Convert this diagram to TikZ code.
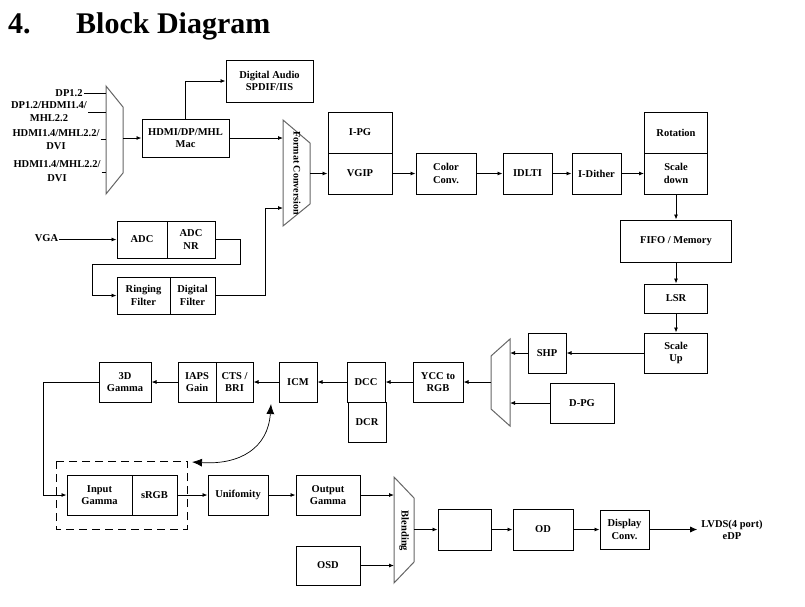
\documentclass[tikz,border=0pt]{standalone}
\usepackage{fontspec}
\setmainfont{Liberation Serif}
\usetikzlibrary{arrows.meta}
\tikzset{   blk/.style = {rectangle, draw = black, line width = 1pt, fill = white, inner sep = 0pt, align = center, font = \fontsize{10.5}{12.5}\selectfont\bfseries},
            box/.style 2 args = {blk, minimum width = #1pt, minimum height = #2pt},
            lbl/.style = {inner sep = 1pt, align = center, font = \fontsize{10.5}{13.5}\selectfont\bfseries},
            flow/.style = {line width = 0.8pt, -{Latex[length=5pt,width=4pt]}},
            mux/.style = {draw = black!60, line width = 1pt, fill = white}}

\begin{document}
\begin{tikzpicture}[x=1pt, y=-1pt]
                        \useasboundingbox (0,0) rectangle (805,606);
                        % heading
                        \node[anchor=base west, inner sep=0pt, font=\fontsize{30}{36}\selectfont\bfseries] (secnum) at (8,33) {4.};
                        \node[anchor=base west, inner sep=0pt, font=\fontsize{30}{36}\selectfont\bfseries] (sectitle) at (76,33) {Block Diagram};

                        % input mux
                        \draw[mux] (106,86) -- (123,107) -- (123,173) -- (106,194) -- cycle;
                        \coordinate (dpin1) at (106,93);
                        \coordinate (dpin2) at (106,112);
                        \coordinate (dpin3) at (106,139);
                        \coordinate (dpin4) at (106,172);
                        \coordinate (dpout) at (123,138);
                        \node[lbl] (dp1) at (69,93) {DP1.2};
                        \node[lbl] (dp2) at (49,111.5) {DP1.2/HDMI1.4/\\MHL2.2};
                        \node[lbl] (hd1) at (56,139.5) {HDMI1.4/MHL2.2/\\DVI};
                        \node[lbl] (hd2) at (57,171) {HDMI1.4/MHL2.2/\\DVI};
                        \draw[line width=0.8pt] (dp1.east) -- (dpin1);
                        \draw[line width=0.8pt] (dp2.east |- dpin2) -- (dpin2);
                        \draw[line width=0.8pt] (hd1.east |- dpin3) -- (dpin3);
                        \draw[line width=0.8pt] (hd2.east |- dpin4) -- (dpin4);

                        \node[box={87}{38}] (mac) at (185.5,138) {HDMI/DP/MHL\\Mac};
                        \node[box={87}{42}] (audio) at (269.5,81) {Digital Audio\\SPDIF/IIS};
                        \draw[flow] (dpout) -- (mac.west);
                        \draw[flow] (mac.north) |- (audio.west);

                        % analog path
                        \node[lbl] (vga) at (46.5,238) {VGA};
                        \node[box={50}{37}] (adc) at (142,239.5) {ADC};
                        \node[box={48}{37}] (adcnr) at (191,239.5) {ADC\\NR};
                        \node[box={53}{37}] (ring) at (143.5,295.5) {Ringing\\Filter};
                        \node[box={45}{37}] (digf) at (192.5,295.5) {Digital\\Filter};
                        \draw[flow] (vga.east |- adc.west) -- (adc.west);
                        \draw[flow] (adcnr.east) -- ++(25,0) |- ++(-148,24.5) |- (ring.west);

                        % format conversion
                        \draw[mux] (283,120) -- (310,143) -- (310,204) -- (283,226) -- cycle;
                        \node[lbl, rotate=-90, font=\fontsize{10}{12}\selectfont\bfseries] (fmtlbl) at (297,173) {Format Conversion};
                        \coordinate (fmtin1) at (283,138);
                        \coordinate (fmtin2) at (283,208);
                        \coordinate (fmtout) at (310,173.5);
                        \draw[flow] (mac.east) -- (fmtin1);
                        \draw[flow] (digf.east) -- ++(50,0) |- (fmtin2);

                        % front end chain
                        \node[box={64}{41}] (ipg) at (360,132.5) {I-PG};
                        \node[box={64}{41}] (vgip) at (360,173.5) {VGIP};
                        \node[box={60}{41}] (color) at (446,173.5) {Color\\Conv.};
                        \node[box={49}{41}] (idlti) at (527.5,173.5) {IDLTI};
                        \node[box={49}{41}] (idither) at (596.5,173.5) {I-Dither};
                        \node[box={63}{41}] (rot) at (676,132.5) {Rotation};
                        \node[box={63}{41}] (sdown) at (676,173.5) {Scale\\down};
                        \draw[flow] (fmtout) -- (vgip.west);
                        \draw[flow] (vgip) -- (color);
                        \draw[flow] (color) -- (idlti);
                        \draw[flow] (idlti) -- (idither);
                        \draw[flow] (idither) -- (sdown);

                        \node[box={111}{42}] (fifo) at (676,241) {FIFO / Memory};
                        \node[box={63}{29}] (lsr) at (676,298.5) {LSR};
                        \node[box={63}{40}] (sup) at (676,353) {Scale\\Up};
                        \draw[flow] (sdown) -- (fifo);
                        \draw[flow] (fifo) -- (lsr);
                        \draw[flow] (lsr) -- (sup);

                        % back end chain
                        \node[box={38}{40}] (shp) at (547,353) {SHP};
                        \node[box={64}{40}] (dpg) at (582,403) {D-PG};
                        \draw[mux] (491,356) -- (510,339) -- (510,426) -- (491,409) -- cycle;
                        \coordinate (yccin1) at (510,353);
                        \coordinate (yccin2) at (510,403);
                        \coordinate (yccout) at (491,382);
                        \draw[flow] (sup) -- (shp);
                        \draw[flow] (shp.west) -- (yccin1);
                        \draw[flow] (dpg.west) -- (yccin2);

                        \node[box={50}{40}] (ycc) at (438,382) {YCC to\\RGB};
                        \node[box={38}{40}] (dcc) at (366,382) {DCC};
                        \node[box={38}{40}] (dcr) at (367,422) {DCR};
                        \node[box={38}{40}] (icm) at (298,382) {ICM};
                        \node[box={38}{40}] (iaps) at (197,382) {IAPS\\Gain};
                        \node[box={37}{40}] (cts) at (234.5,382) {CTS /\\BRI};
                        \node[box={52}{40}] (g3d) at (125,382) {3D\\Gamma};
                        \draw[flow] (yccout) -- (ycc.east);
                        \draw[flow] (ycc) -- (dcc);
                        \draw[flow] (dcc) -- (icm);
                        \draw[flow] (icm) -- (cts);
                        \draw[flow] (iaps) -- (g3d);

                        % output side
                        \draw[line width=0.9pt, dash pattern=on 8pt off 5pt] (56,461) rectangle (187,529);
                        \node[box={65}{40}] (ingam) at (99.5,495) {Input\\Gamma};
                        \node[box={45}{40}] (srgb) at (154.5,495) {sRGB};
                        \node[box={60}{40}] (unif) at (238,495) {Unifomity};
                        \node[box={64}{40}] (outg) at (328,495) {Output\\Gamma};
                        \node[box={64}{39}] (osd) at (328,565.5) {OSD};
                        \draw[flow] (g3d.west) -- ++(-55,0) |- (ingam.west);
                        \draw[flow] (srgb) -- (unif);
                        \draw[flow] (unif) -- (outg);

                        \coordinate (knoba) at (271,404);
                        \coordinate (knobb) at (192,462);
                        \draw[line width=0.7pt, {Latex[length=10pt,width=8pt]}-{Latex[length=10pt,width=8pt]}] (knoba) .. controls (268,448) and (240,465) .. (knobb);

                        \draw[mux] (394,477) -- (414,498) -- (414,562) -- (394,583) -- cycle;
                        \node[lbl, rotate=-90] (blendlbl) at (404,531) {Blending};
                        \coordinate (blendin1) at (394,495);
                        \coordinate (blendin2) at (394,565.5);
                        \coordinate (blendout) at (414,529.5);
                        \draw[flow] (outg.east) -- (blendin1);
                        \draw[flow] (osd.east) -- (blendin2);

                        \node[box={53}{41}] (hid) at (464.5,529.5) {};
                        \node[box={60}{41}] (od) at (543,529.5) {OD};
                        \node[box={49}{39}] (disp) at (624.5,529.5) {Display\\Conv.};
                        \node[lbl, inner sep=4pt, font=\fontsize{10.5}{12}\selectfont\bfseries] (lvds) at (732,529.5) {LVDS(4 port)\\eDP};
                        \draw[flow] (blendout) -- (hid.west);
                        \draw[flow] (hid) -- (od);
                        \draw[flow] (od) -- (disp);
                        \draw[line width=0.8pt, -{Latex[length=7pt,width=6pt]}] (disp.east) -- (lvds.west |- disp.east);
                      \end{tikzpicture}
\end{document}
